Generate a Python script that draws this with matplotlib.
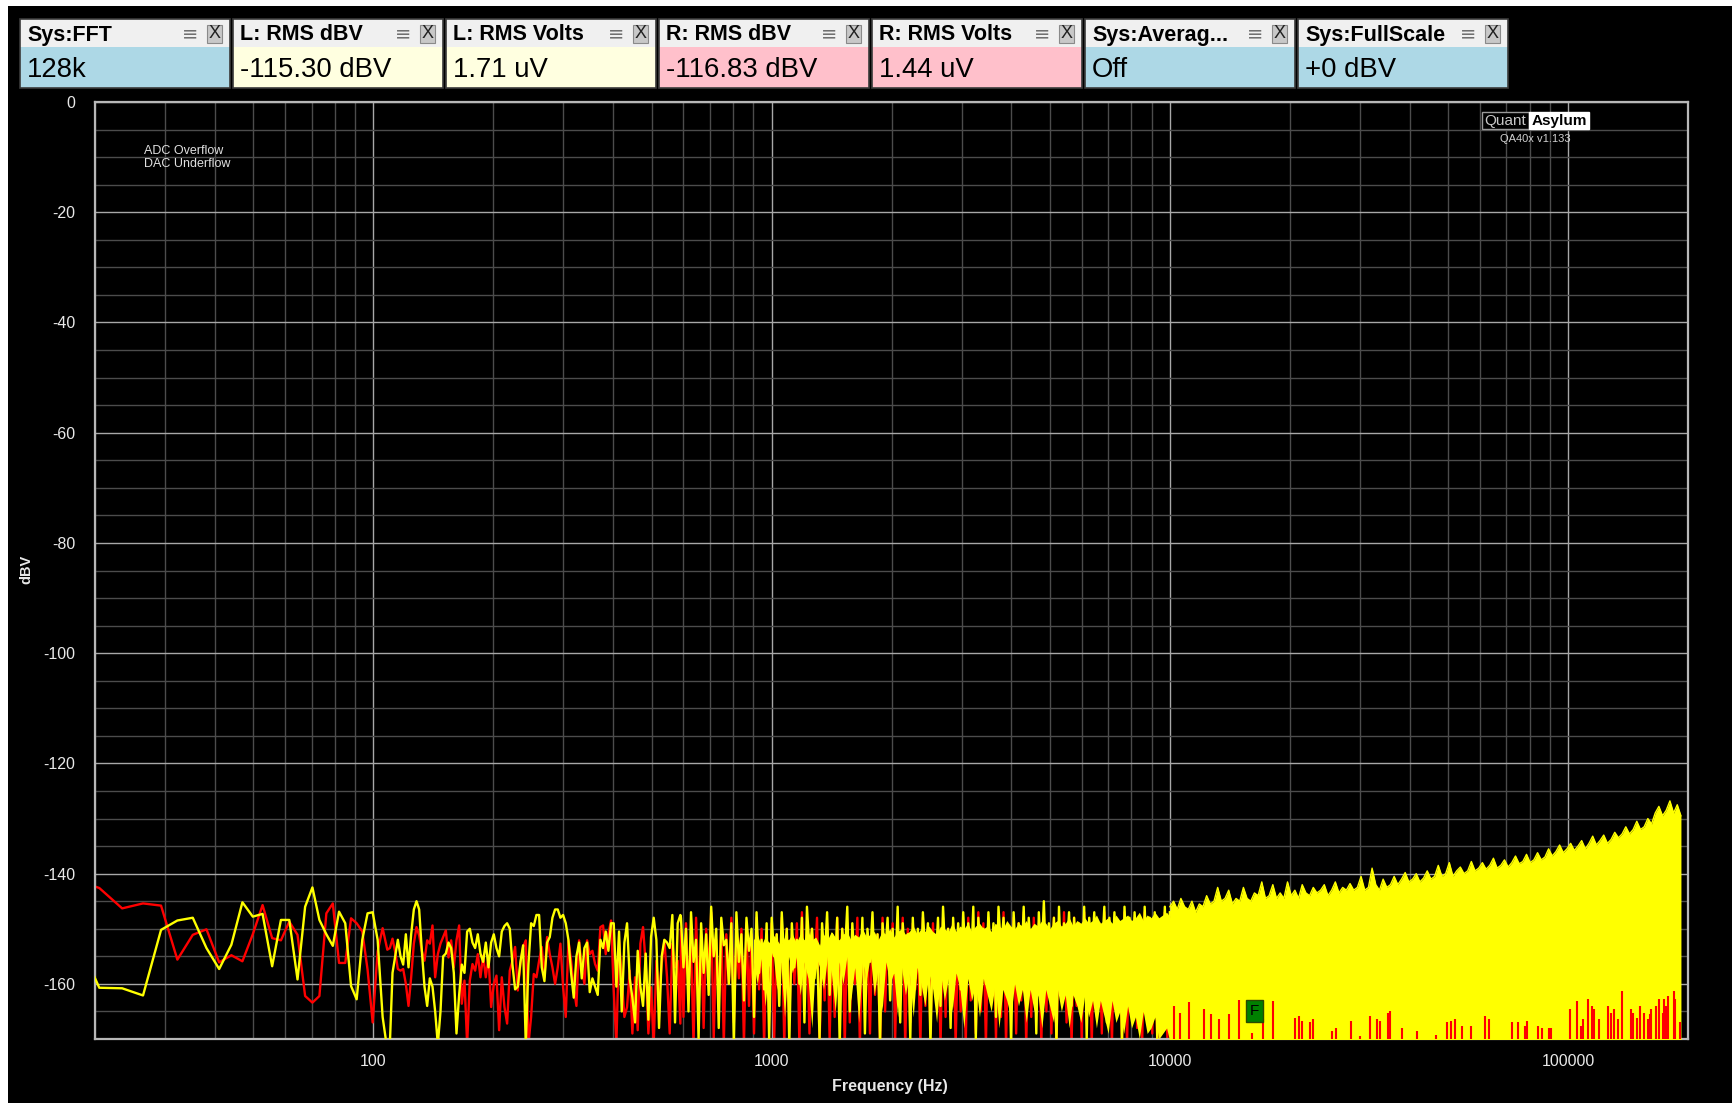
import numpy as np
import matplotlib
matplotlib.use("Agg")
import matplotlib.pyplot as plt
from matplotlib.patches import Rectangle
from matplotlib.ticker import FixedLocator, FixedFormatter, NullFormatter

plt.rcParams['font.family'] = ['Liberation Sans', 'DejaVu Sans']

W, H, DPI = 1732, 1103, 100

# ---------------- data ----------------
panel_titles = ["Sys:FFT", "L: RMS dBV", "L: RMS Volts", "R: RMS dBV",
                "R: RMS Volts", "Sys:Averag...", "Sys:FullScale"]
panel_values = ["128k", "-115.30 dBV", "1.71 uV", "-116.83 dBV",
                "1.44 uV", "Off", "+0 dBV"]
panel_kinds = ["sys", "L", "L", "R", "R", "sys", "sys"]

x_ticks = [100, 1000, 10000, 100000]
x_tick_labels = ["100", "1000", "10000", "100000"]
y_ticks = [0, -20, -40, -60, -80, -100, -120, -140, -160]
y_tick_labels = ["0", "-20", "-40", "-60", "-80", "-100", "-120", "-140", "-160"]

# resolved FFT bins (Hz)
low_freq = [17.6, 20.5, 23.4, 26.4, 29.3, 32.2, 35.2, 38.1, 41.0, 44.0, 46.9,
            49.8, 52.7, 55.7, 58.6, 61.5, 64.5, 67.4, 70.3, 73.2, 76.2, 79.1,
            82.0, 85.0, 87.9, 90.8, 93.8, 96.7, 99.6, 102.5, 105.5, 108.4]
L_low_db = [-150, -160.7, -160.8, -162.1, -150.2, -148.5, -148.0, -153.5, -157.3,
            -152.9, -145.2, -147.8, -147.3, -156.8, -148.4, -148.4, -159.2, -146.0,
            -142.5, -148.4, -151, -153.1, -146.9, -149.0, -160.4, -162.8, -152,
            -147.2, -147.0, -152, -166, -172]
R_low_db = [-141, -142.6, -146.3, -145.4, -145.8, -155.6, -151.1, -150.1, -156.1,
            -154.8, -155.9, -151, -145.7, -151.7, -152.1, -148.7, -151.1, -162.2,
            -163.4, -162.2, -147.2, -145.4, -156.2, -156.2, -148.1, -149, -150.5,
            -157.4, -167.0, -154.1, -149.9, -153.8]

# band 1: 110 Hz .. 590 Hz
band1_range = (110, 590)
L_band1_db = [
    -171, -158, -155, -152, -155, -156.5, -151, -157, -151, -146.5,
    -145, -146.5, -154, -160.5, -164, -159, -160.5, -165, -171, -165,
    -155, -154.5, -152.5, -153.5, -158, -169, -162, -156.5, -158, -150.5,
    -150, -152.5, -153.5, -151, -154.5, -156, -152.5, -157, -152.5, -151,
    -153.5, -155, -150.5, -149.5, -149, -150, -156.5, -161, -160.5, -156,
    -153, -171, -156.5, -149, -149.5, -147.5, -147.5, -157, -159.5, -152.5,
    -151.5, -148, -146.5, -146.5, -148, -147.5, -149, -152, -158, -162.5,
    -155, -152.5, -159, -153.5, -152.5, -161.5, -159, -160.5, -162, -152,
    -153.5, -150.5, -154, -149, -149, -160.5, -150.5, -165, -152.5, -149,
    -159, -162.5, -167, -154, -160.5, -164, -154.5, -166.5, -151.5, -148,
    -152, -168, -155, -152, -152.5, -153.5, -147.5, -167, -149, -147.5]
R_band1_db = [
    -153.5, -151.8, -154.2, -157.3, -157.6, -157.3, -160, -164, -158.8, -152.7,
    -149.7, -151.2, -154, -155.8, -152.1, -152.7, -149.4, -158.8, -154.6, -152.7,
    -151.5, -150.3, -155.2, -152.1, -157, -152.1, -149.4, -163.6, -159.4, -171,
    -159.4, -156.4, -157.6, -154.6, -158.8, -154.9, -158.8, -154.9, -164.2, -160,
    -158.5, -168.4, -158.8, -164.2, -167.2, -157.6, -155.8, -153.3, -161.2, -156.4,
    -153.3, -152.1, -171, -166, -158.2, -158.8, -155.8, -153.3, -158.8, -151.5,
    -154.6, -157, -160, -157, -152.7, -160.6, -166, -152.1, -155.8, -160.6,
    -164, -152.1, -157, -160, -152.1, -154.6, -154, -156.4, -157.6, -149.7,
    -149.4, -154.6, -150.9, -148.5, -161.2, -170.9, -152.1, -158.8, -166, -164.2,
    -157.6, -169, -158.8, -168.4, -152.7, -149.7, -156.4, -169, -160.6, -171,
    -155.8, -162.4, -156.4, -152.1, -158.8, -169, -152.7, -157, -155.8, -167.2]

# band 2: 590 Hz .. 10 kHz
band2_range = (592, 10000)
L_band2_db = [
    -148, -157, -150, -165, -147, -156, -152, -170, -149, -158,
    -151, -162, -146, -155, -150, -168, -148, -153, -152, -160,
    -149, -171, -147, -156, -151, -163, -148, -154, -150, -166,
    -147, -158, -152, -161, -149, -170,
    -148, -155, -151, -164, -147, -156, -150, -171, -149, -157,
    -152, -160, -148, -167, -146, -154, -150, -159, -153, -170,
    -149, -156, -147, -162, -151, -158, -148, -171, -150, -155,
    -146, -165, -149, -157, -152, -161, -148, -169, -150, -156,
    -147, -160, -151, -171, -149, -155, -148, -163, -150, -158,
    -146, -167, -149, -156, -151, -170, -148, -159, -150, -162,
    -147, -155, -149, -171, -151, -157, -148, -164, -146, -156,
    -150, -168, -148, -158, -149, -161,
    -147, -156, -149, -158, -146, -170, -148, -155, -150, -160,
    -147, -157, -149, -166, -146, -154, -148, -159, -150, -171,
    -147, -156, -149, -158, -146, -162, -148, -155, -150, -169,
    -147, -157, -145, -159, -149, -156, -148, -171, -146, -158,
    -149, -155, -147, -164, -148, -157, -150, -160, -146, -170,
    -148, -156, -147, -158, -149, -155, -146, -167, -148, -159,
    -147, -156, -149, -171, -146, -157, -148, -160, -147, -155,
    -149, -165, -146, -158, -148, -156, -147, -170, -149, -157,
    -146, -159, -147]
R_band2_db = [
    -150, -166, -149, -160, -153, -171, -148, -162, -151, -168,
    -150, -158, -147, -170, -152, -163, -149, -171, -151, -160,
    -148, -167, -152, -159, -150, -171, -149, -164, -151, -169,
    -148, -161, -150, -171, -152, -165,
    -149, -170, -151, -162, -148, -171, -150, -166, -152, -160,
    -149, -171, -147, -164, -151, -169, -150, -158, -148, -171,
    -152, -163, -149, -170, -151, -166, -148, -161, -150, -171,
    -149, -167, -151, -160, -148, -171, -150, -164, -152, -169,
    -149, -162, -151, -171, -148, -165, -150, -160, -149, -170,
    -151, -163, -148, -171, -150, -167, -149, -161, -152, -171,
    -148, -164, -150, -169, -149, -162, -151, -171, -148, -166,
    -150, -160, -149, -171, -151, -165,
    -149, -171, -148, -163, -150, -169, -147, -165, -149, -171,
    -148, -162, -150, -170, -149, -166, -147, -171, -150, -164,
    -148, -169, -149, -163, -147, -171, -150, -166, -148, -162,
    -149, -171, -147, -165, -150, -169, -148, -171, -149, -163,
    -147, -167, -150, -171, -148, -164, -149, -170, -147, -162,
    -150, -171, -148, -166, -149, -169, -147, -163, -150, -171,
    -148, -165, -149, -170, -147, -171, -150, -164, -148, -168,
    -149, -171, -147, -163, -150, -169, -148, -171, -149, -165,
    -147, -170, -148]

# band 2 dense core of the left channel (900 Hz .. 10.5 kHz)
core_range = (900, 10500)
L_core_top = [
    -152, -151, -153, -151.5, -152.5, -151, -152, -153, -151.5, -152,
    -151, -152.5, -151, -152, -150.5, -152, -151.5, -153, -151, -152,
    -150.5, -151.5, -152, -151, -150.5, -152, -151, -151.5, -150, -151.5,
    -151, -150.5, -152, -150.5, -151, -150, -151.5, -150.5,
    -150, -151, -150.5, -149.5, -151, -150, -150.5, -149.5, -150.5, -151,
    -149.5, -150, -150.5, -149, -150.5, -149.5, -150, -149, -150.5, -149.5,
    -149, -150, -149.5, -150.5, -149, -149.5, -150, -148.5, -149.5, -150,
    -149, -149.5, -148.5, -150, -149, -149.5, -148.5, -149, -150, -149,
    -148.5, -149.5, -149, -148, -149.5, -148.5, -149, -148, -149, -148.5,
    -147.5, -149, -148.5, -148, -149, -147.5, -148.5, -148, -147.5, -148.5,
    -148, -147, -148.5, -147.5, -148, -147, -148, -147.5, -147, -148,
    -147.5, -147]
L_core_floor = [
    -156, -160, -155, -164, -157, -154, -161, -156, -166, -155,
    -158, -155, -162, -156, -159, -168, -155, -157, -161, -155,
    -158, -165, -156, -160, -155, -163, -157, -167, -156, -159,
    -155, -162, -157, -165, -156, -160, -158, -166,
    -157, -162, -158, -166, -157, -160, -164, -158, -161, -167,
    -158, -163, -159, -165, -158, -161, -168, -159, -163, -160,
    -166, -159, -162, -165, -160, -168, -161, -163, -166, -160,
    -164, -161, -167, -161, -165, -162, -168, -161, -164, -167,
    -161, -165, -162, -168, -162, -164, -167, -162, -166, -163,
    -168, -163, -166, -169, -163, -167, -165, -169, -164, -168,
    -166, -170, -165, -169, -168, -166, -170, -169, -168, -171,
    -170, -171]

# band 3: 10 kHz .. 192 kHz, left channel peak envelope (noise floor fills down)
band3_range = (10000, 192000)
band3_floor = -172
L_band3_top = [
    -146, -145, -146.5, -144.5, -146, -146.5, -145, -147, -145.5, -146,
    -144, -145.5, -145, -142.5, -145, -144.5, -143, -145.5, -144.5, -145,
    -142.5, -144.5, -145, -143.5, -144, -141.5, -144.5, -144, -142, -144.5,
    -143.5, -144.5, -141.5, -144, -143, -144.5, -142, -143.5, -144, -142.5,
    -143.5, -143, -142, -144, -143, -141.5, -143.5, -142.5, -143, -141.8,
    -143, -142.5, -140.5, -143, -142.5, -139, -142, -143, -141, -142.5,
    -142, -140.5, -142, -141, -139.8, -141.5, -141, -140, -141.5, -140.8,
    -139.5, -141, -140.5, -138.5, -140.5, -140, -138, -140.5, -139.5, -138.8,
    -140, -139.5, -137.8, -139.5, -139, -138, -139.2, -138.5, -137.2, -139,
    -138.5, -137.5, -138.8, -138, -136.8, -138.2, -137.8, -136.5, -138, -137.5,
    -136.2, -137.5, -137, -135.5, -136.8, -136, -134.8, -136.2, -135.5, -134.5,
    -135.8, -135, -134, -135.5, -134.5, -133.2, -134.8, -134, -133, -134.5,
    -133.8, -132.5, -133.5, -132.8, -131.5, -132.8, -132, -130.5, -132, -131.5,
    -130, -131, -129, -127.8, -129.5, -128.5, -126.8, -129, -127.5, -129.5]

# right channel spikes visible at the bottom of band 3
R_spike_freq = [10260, 10590, 11180, 12180, 12710, 13270, 14060, 14930, 16100, 17170,
                18190, 20600, 21050, 21500, 22450, 22930, 25530, 26090, 28430, 30000,
                31790, 33040, 33760, 35240, 35620, 38230, 41650, 46590, 49670, 50740,
                52070, 54120, 57110, 61970, 63180, 72300, 74680, 77950, 78800, 84060,
                85870, 89640, 90600, 100900, 105300, 107600, 108700, 112300, 114700, 116000,
                119800, 125600, 127800, 130500, 133400, 136800, 143800, 145300, 148500, 151700,
                155000, 158400, 160100, 161800, 166000, 168900, 172600, 174400, 176300, 178200,
                184000, 186000, 191500]
R_spike_top = [-164.0, -165.2, -163.2, -164.5, -165.5, -166.4, -165.5, -163.0, -168.9, -166.4,
               -163.1, -166.1, -165.8, -166.7, -167.0, -166.4, -168.6, -168.0, -166.7, -169.5,
               -165.8, -166.4, -166.7, -165.2, -164.9, -168.0, -168.6, -169.2, -167.0, -166.7,
               -166.4, -167.7, -167.7, -165.8, -166.4, -167.0, -167.0, -167.7, -166.7, -167.7,
               -168.0, -168.0, -168.0, -164.6, -163.1, -167.7, -166.4, -162.8, -164.0, -164.6,
               -166.4, -164.0, -165.2, -164.6, -166.4, -161.3, -164.6, -165.2, -166.1, -164.0,
               -165.2, -166.4, -165.5, -164.6, -164.0, -162.8, -165.2, -162.8, -164.0, -162.2,
               -161.3, -162.8, -167.0]

marker_freq, marker_db = 16300, -164.9

# ---------------- figure ----------------
def fx(px):
    return px / W

def fy(py):
    return 1 - py / H

fig = plt.figure(figsize=(W / DPI, H / DPI), dpi=DPI, facecolor='white')
fig.add_artist(Rectangle((fx(8), 0), 1 - fx(8), fy(6), transform=fig.transFigure,
                         facecolor='black', edgecolor='none', zorder=0))

# header panels
kind_colors = {"sys": "#add8e6", "L": "#ffffe0", "R": "#ffc0cb"}
for i, (t, v, k) in enumerate(zip(panel_titles, panel_values, panel_kinds)):
    x0 = 20 + 213 * i
    pw = 210
    fig.add_artist(Rectangle((fx(x0), fy(47)), pw / W, 28 / H, transform=fig.transFigure,
                             facecolor='#f0f0f0', edgecolor='none', zorder=1))
    fig.add_artist(Rectangle((fx(x0), fy(88)), pw / W, 41 / H, transform=fig.transFigure,
                             facecolor=kind_colors[k], edgecolor='none', zorder=1))
    fig.add_artist(Rectangle((fx(x0), fy(88)), pw / W, 69 / H, transform=fig.transFigure,
                             facecolor='none', edgecolor='#3a3a3a', lw=1.2, zorder=2))
    fig.text(fx(x0 + 7), fy(35), t, fontsize=15.5, fontweight='bold', color='black',
             ha='left', va='center', zorder=3)
    fig.text(fx(x0 + 7), fy(70), v, fontsize=19.8, color='black',
             ha='left', va='center', zorder=3)
    fig.text(fx(x0 + 170), fy(34), "\u2261", fontsize=14, color='#707070',
             ha='center', va='center', family=['DejaVu Sans'], zorder=3)
    fig.add_artist(Rectangle((fx(x0 + 187), fy(43)), 15 / W, 18 / H, transform=fig.transFigure,
                             facecolor='#c8c8c8', edgecolor='#8a8a8a', lw=0.8, zorder=2))
    fig.text(fx(x0 + 194.5), fy(34), "X", fontsize=13, color='#202020',
             ha='center', va='center', zorder=3)

# axes
ax = fig.add_axes([fx(95), fy(1039), (1688 - 95) / W, (1039 - 102) / H])
ax.set_facecolor('black')
ax.set_xscale('log')
ax.set_xlim(20, 200000)
ax.set_ylim(-170, 0)

minor_x = [m * 10 ** e for e in range(1, 6) for m in range(2, 10) if 20 <= m * 10 ** e <= 200000]
ax.xaxis.set_major_locator(FixedLocator(x_ticks))
ax.xaxis.set_major_formatter(FixedFormatter(x_tick_labels))
ax.xaxis.set_minor_locator(FixedLocator(minor_x))
ax.xaxis.set_minor_formatter(NullFormatter())
ax.yaxis.set_major_locator(FixedLocator(y_ticks))
ax.yaxis.set_major_formatter(FixedFormatter(y_tick_labels))
ax.yaxis.set_minor_locator(FixedLocator(list(range(-165, 0, 5))))

ax.grid(which='major', color='#a8a8a8', lw=1.0)
ax.grid(which='minor', color='#4c4c4c', lw=1.0)
ax.set_axisbelow(True)
ax.tick_params(which='both', length=0, colors='#e8e8e8', labelsize=11.5)
ax.tick_params(axis='x', pad=11)
ax.tick_params(axis='y', pad=14)
for s in ax.spines.values():
    s.set_color('#b8b8b8')
    s.set_linewidth(1.6)

# right channel (red) then left channel (yellow)
R_f = np.concatenate([low_freq,
                      np.geomspace(*band1_range, len(R_band1_db)),
                      np.geomspace(*band2_range, len(R_band2_db))])
R_y = np.concatenate([R_low_db, R_band1_db, R_band2_db])
L_f = np.concatenate([low_freq,
                      np.geomspace(*band1_range, len(L_band1_db)),
                      np.geomspace(*band2_range, len(L_band2_db))])
L_y = np.concatenate([L_low_db, L_band1_db, L_band2_db])

ax.plot(R_f, R_y, color='#ff0000', lw=1.7, zorder=2)

fc = np.geomspace(*core_range, len(L_core_top))
ax.fill_between(fc, L_core_floor, L_core_top, color='#ffff00', lw=0, zorder=3)
ax.plot(L_f, L_y, color='#ffff00', lw=1.7, zorder=3)

f3 = np.geomspace(*band3_range, len(L_band3_top))
ax.fill_between(f3, band3_floor, L_band3_top, color='#ffff00', lw=0, zorder=3)
ax.plot(f3, L_band3_top, color='#ffff00', lw=1.0, zorder=3)
ax.vlines(R_spike_freq, band3_floor, R_spike_top, color='#ff0000', lw=1.5, zorder=4)

ax.text(marker_freq, marker_db, "F", fontsize=11, color='black', ha='center', va='center',
        bbox=dict(boxstyle='square,pad=0.25', facecolor='#008000', edgecolor='#2a4a00', lw=1),
        zorder=6)

# labels
fig.text(fx(890), fy(1086), "Frequency (Hz)", fontsize=11.5, fontweight='bold',
         color='#e8e8e8', ha='center', va='center')
fig.text(fx(26), fy(569), "dBV", fontsize=10.5, fontweight='bold', color='#e8e8e8',
         ha='center', va='center', rotation=90)
fig.text(fx(144), fy(145), "ADC Overflow\nDAC Underflow", fontsize=9, color='#e0e0e0',
         ha='left', va='top', linespacing=1.15)

# QuantAsylum logo
fig.add_artist(Rectangle((fx(1482), fy(129)), 47 / W, 17 / H, transform=fig.transFigure,
                         facecolor='black', edgecolor='#9a9a9a', lw=1.0, zorder=5))
fig.add_artist(Rectangle((fx(1529), fy(129)), 60 / W, 17 / H, transform=fig.transFigure,
                         facecolor='white', edgecolor='white', lw=1.0, zorder=5))
fig.text(fx(1505.5), fy(120.5), "Quant", fontsize=11, color='#c8c8c8',
         ha='center', va='center', zorder=6)
fig.text(fx(1559), fy(120.5), "Asylum", fontsize=11, fontweight='bold', color='black',
         ha='center', va='center', zorder=6)
fig.text(fx(1535), fy(139), "QA40x v1.133", fontsize=8, color='#d0d0d0',
         ha='center', va='center', zorder=6)

fig.savefig("out.png", dpi=DPI, facecolor=fig.get_facecolor())
